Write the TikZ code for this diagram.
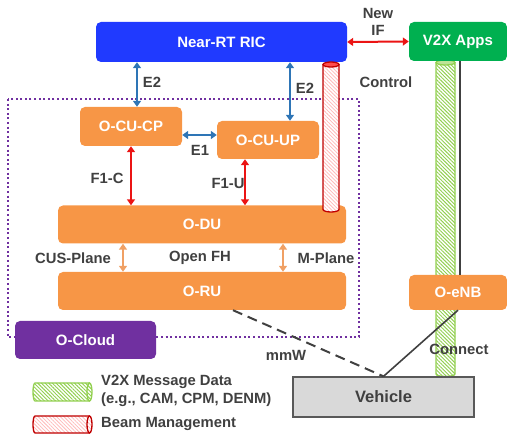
\documentclass[tikz,border=0pt]{standalone}
\usepackage{fontspec}
\setmainfont{Liberation Sans}
\usetikzlibrary{arrows.meta,patterns.meta}
\definecolor{ricblue}{RGB}{32,58,255}
\definecolor{appgreen}{RGB}{0,176,80}
\definecolor{boxorange}{RGB}{247,150,70}
\definecolor{cloudpurple}{RGB}{112,48,160}
\definecolor{txt}{RGB}{64,64,64}
\definecolor{arrblue}{RGB}{46,117,182}
\definecolor{arrred}{RGB}{235,20,20}
\definecolor{arrorange}{RGB}{240,160,100}
\definecolor{hatchgreen}{RGB}{146,208,80}
\definecolor{hatchred}{RGB}{255,185,185}
\definecolor{darkred}{RGB}{192,0,0}
\definecolor{vehgray}{RGB}{217,217,217}
\definecolor{vehborder}{RGB}{89,89,89}
\begin{document}
\begin{tikzpicture}[x=1pt,y=-1pt,
  box/.style={rounded corners=5pt, text=white, font=\fontsize{15}{17}\selectfont\bfseries, inner sep=0pt, anchor=center},
  lbl/.style={text=txt, font=\fontsize{14.8}{16}\selectfont\bfseries, inner sep=0pt},
  biarrow/.style={line width=2pt, {Triangle[length=6pt,width=8pt]}-{Triangle[length=6pt,width=8pt]}},
  hatchG/.style={preaction={fill=white}, pattern={Lines[angle=-45,distance=2.6pt,line width=0.95pt]}, pattern color=hatchgreen},
  hatchR/.style={preaction={fill=white}, pattern={Lines[angle=-45,distance=2.6pt,line width=0.75pt]}, pattern color=hatchred},
]
\useasboundingbox (0,0) rectangle (507,441);

% O-Cloud dotted region
\draw[cloudpurple, line width=2pt, dash pattern=on 2pt off 2.6pt] (8,99) rectangle (359,337);

% green cylinder (V2X message data)
\path[hatchG] (436,62.5) -- (436,374) arc[start angle=180,end angle=0,x radius=9.5,y radius=2.5] -- (455,62.5) arc[start angle=0,end angle=-180,x radius=9.5,y radius=2.5] -- cycle;
\draw[hatchgreen, line width=1.3pt] (436,62.5) -- (436,374) arc[start angle=180,end angle=0,x radius=9.5,y radius=2.5] -- (455,62.5);
\draw[hatchgreen, fill=hatchgreen!60, line width=1.3pt] (445.5,62.5) ellipse[x radius=9.5,y radius=2.5];

% boxes
\node[box, fill=ricblue, minimum width=251pt, minimum height=40pt] (ric) at (221.5,42) {Near-RT RIC};
\node[box, fill=appgreen, minimum width=98pt, minimum height=39pt] (v2x) at (458,41.5) {V2X Apps};
\node[box, fill=boxorange, minimum width=102pt, minimum height=39pt] (cucp) at (131,126.5) {O-CU-CP};
\node[box, fill=boxorange, minimum width=102pt, minimum height=38pt] (cuup) at (268,140) {O-CU-UP};
\node[box, fill=boxorange, minimum width=288pt, minimum height=38pt] (odu) at (202,224.5) {O-DU};
\node[box, fill=boxorange, minimum width=288pt, minimum height=38pt] (oru) at (202,291) {O-RU};
\node[box, fill=boxorange, minimum width=98pt, minimum height=35pt] (oenb) at (458,292.5) {O-eNB};
\node[box, fill=cloudpurple, minimum width=141pt, minimum height=38pt] (cloud) at (85.5,340) {O-Cloud};

% red cylinder (beam management control)
\path[hatchR] (323,64.5) -- (323,209.5) arc[start angle=180,end angle=0,x radius=8,y radius=2.5] -- (339,64.5) arc[start angle=0,end angle=-180,x radius=8,y radius=2.5] -- cycle;
\draw[darkred, line width=1.3pt] (323,64.5) -- (323,209.5) arc[start angle=180,end angle=0,x radius=8,y radius=2.5] -- (339,64.5);
\draw[darkred, fill=red!70, line width=1.3pt] (331,64.5) ellipse[x radius=8,y radius=2.5];

% vehicle
\node[draw=vehborder, line width=1.3pt, fill=vehgray, minimum width=181pt, minimum height=40pt, inner sep=0pt, text=txt, font=\fontsize{16.5}{18}\selectfont\bfseries] (veh) at (383.5,397) {Vehicle};

% connectors
\draw[biarrow, arrred] (ric.east) -- (v2x.west);
\draw[biarrow, arrblue] (137,0 |- ric.south) -- (137,0 |- cucp.north);
\draw[biarrow, arrblue] (290,0 |- ric.south) -- (290,0 |- cuup.north);
\draw[biarrow, arrblue] (cucp.east |- 0,135) -- (cuup.west |- 0,135);
\draw[biarrow, arrred] (cucp.south) -- (cucp.south |- odu.north);
\draw[biarrow, arrred] (245,0 |- cuup.south) -- (245,0 |- odu.north);
\draw[biarrow, arrorange] (123,0 |- odu.south) -- (123,0 |- oru.north);
\draw[biarrow, arrorange] (283,0 |- odu.south) -- (283,0 |- oru.north);
\draw[txt, line width=1.6pt] (460,0 |- v2x.south) -- (460,0 |- oenb.north);
\draw[txt, line width=1.6pt] (oenb.south) -- (veh.north);
\draw[txt, line width=2pt, dash pattern=on 10pt off 6pt] (233,0 |- oru.south) -- (veh.north);

% labels
\node[lbl, align=center] (newif) at (378,22) {New\\[1pt]IF};
\node[lbl] (ctrl) at (386,82) {Control};
\node[lbl] (e2a) at (152,82) {E2};
\node[lbl] (e2b) at (305,88) {E2};
\node[lbl] (e1) at (200,150) {E1};
\node[lbl] (f1c) at (107,178) {F1-C};
\node[lbl] (f1u) at (228,183) {F1-U};
\node[lbl] (cus) at (73,258) {CUS-Plane};
\node[lbl] (ofh) at (200,258) {Open FH};
\node[lbl] (mpl) at (326,258) {M-Plane};
\node[lbl] (mmw) at (286,355) {mmW};
\node[lbl] (conn) at (459,349) {Connect};

% legend
\path[hatchG] (35,383) -- (89.5,383) arc[start angle=-90,end angle=90,x radius=2.5,y radius=9] -- (35,401) arc[start angle=90,end angle=270,x radius=2,y radius=9] -- cycle;
\draw[hatchgreen, line width=1.3pt] (89.5,383) -- (35,383) arc[start angle=-90,end angle=-270,x radius=2,y radius=9] -- (89.5,401);
\draw[hatchgreen, line width=1.3pt] (89.5,392) ellipse[x radius=2.5,y radius=9];
\path[hatchR] (35,416) -- (89.5,416) arc[start angle=-90,end angle=90,x radius=2.5,y radius=8.5] -- (35,433) arc[start angle=90,end angle=270,x radius=2,y radius=8.5] -- cycle;
\draw[darkred, line width=1.3pt] (89.5,416) -- (35,416) arc[start angle=-90,end angle=-270,x radius=2,y radius=8.5] -- (89.5,433);
\draw[darkred, line width=1.3pt] (89.5,424.5) ellipse[x radius=2.5,y radius=8.5];
\node[lbl, anchor=west] (lg1) at (101,382) {V2X Message Data};
\node[lbl, anchor=west] (lg2) at (101,400) {(e.g., CAM, CPM, DENM)};
\node[lbl, anchor=west] (lg3) at (101,424) {Beam Management};
\end{tikzpicture}
\end{document}
